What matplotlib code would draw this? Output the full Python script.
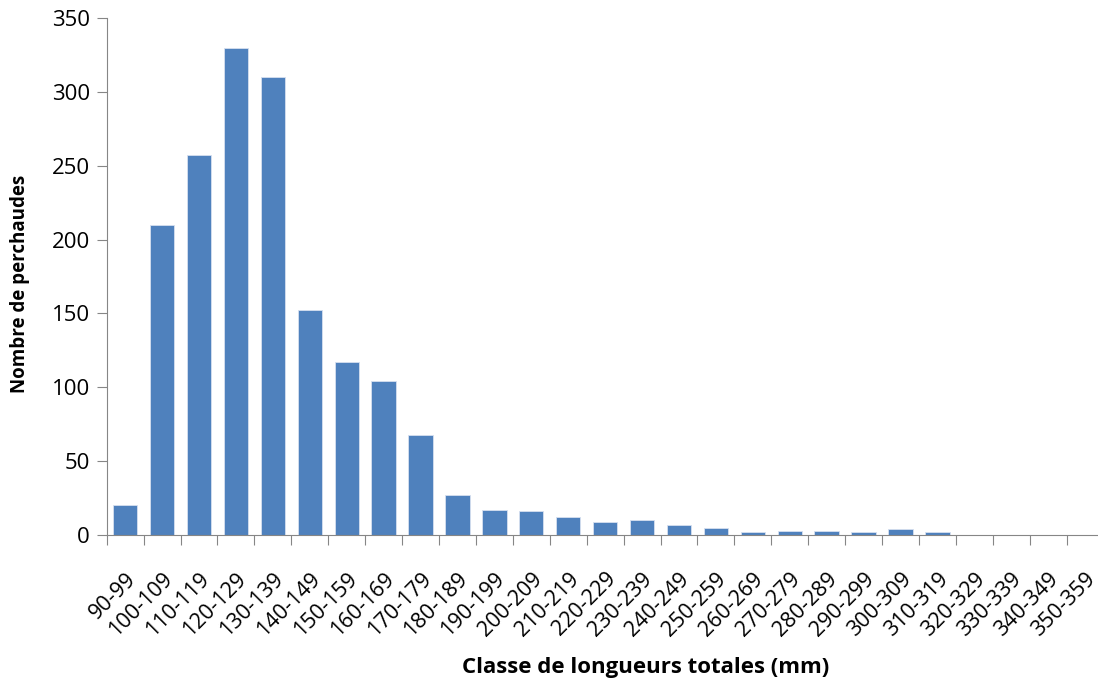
import matplotlib
matplotlib.use("Agg")
import matplotlib.pyplot as plt
import numpy as np

plt.rcParams['font.family'] = ['Open Sans', 'DejaVu Sans']

# length classes (mm) and number of perch in each
classes = ['90-99', '100-109', '110-119', '120-129', '130-139', '140-149',
           '150-159', '160-169', '170-179', '180-189', '190-199', '200-209',
           '210-219', '220-229', '230-239', '240-249', '250-259', '260-269',
           '270-279', '280-289', '290-299', '300-309', '310-319', '320-329',
           '330-339', '340-349', '350-359']
counts = [20, 210, 257, 330, 310, 152, 117, 104, 68, 27, 17, 16,
          12, 9, 10, 7, 5, 2, 3, 3, 2, 4, 2, 0, 0, 0, 0]

W, H = 1098, 686
fig = plt.figure(figsize=(W / 100, H / 100), dpi=100)
# plot area runs slightly past the right edge of the figure
x0, x1, y0, y1 = 106.7, 1103.6, 18, 535
ax = fig.add_axes([x0 / W, 1 - y1 / H, (x1 - x0) / W, (y1 - y0) / H])

x = np.arange(len(classes))
ax.bar(x, counts, width=0.66, color='#4F81BD', edgecolor='#D6E0F0', linewidth=0.6)

ax.set_xlim(-0.5, len(classes) - 0.5)
ax.set_ylim(0, 350)
ax.set_yticks(range(0, 351, 50))
ax.tick_params(axis='y', labelsize=16, length=7, color='#868686', pad=5)

# ticks between the categories, labels centred under each bar
ax.set_xticks(np.arange(-0.5, len(classes), 1.0))
ax.set_xticklabels([])
ax.set_xticks(x, minor=True)
ax.set_xticklabels(classes, minor=True, rotation=45, ha='right',
                   rotation_mode='anchor', fontsize=15.5)
ax.tick_params(axis='x', which='major', length=7, color='#868686')
ax.tick_params(axis='x', which='minor', length=0, pad=24)

for side in ['top', 'right']:
    ax.spines[side].set_visible(False)
for side in ['left', 'bottom']:
    ax.spines[side].set_color('#868686')

fig.text(20 / W, 1 - 284 / H, 'Nombre de perchaudes', rotation=90,
         fontsize=13.5, fontweight='bold', ha='center', va='center')
fig.text(646 / W, 1 - 668 / H, 'Classe de longueurs totales (mm)',
         fontsize=16, fontweight='bold', ha='center', va='center')

fig.savefig('out.png', dpi=100)
